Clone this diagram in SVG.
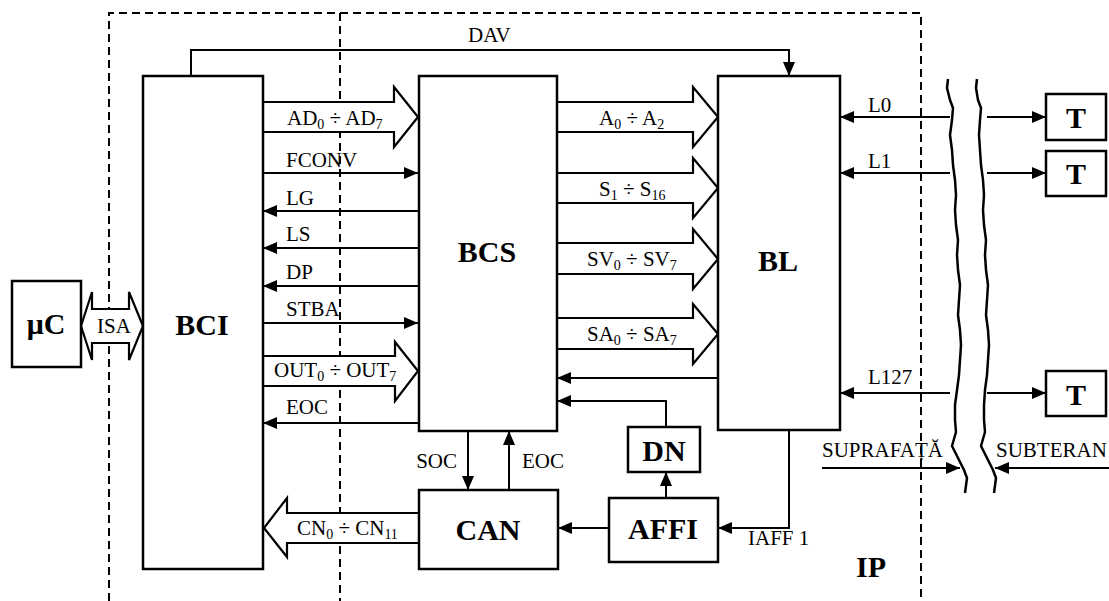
<svg xmlns="http://www.w3.org/2000/svg" width="1109" height="601" viewBox="0 0 1109 601">
<style>
.box{fill:#fff;stroke:#000;stroke-width:2.5}
.ln{fill:none;stroke:#000;stroke-width:2}
.ar{fill:none;stroke:#000;stroke-width:2;marker-end:url(#ah)}
.bus{fill:#fff;stroke:#000;stroke-width:2.2;stroke-linejoin:miter}
.dash{fill:none;stroke:#000;stroke-width:2;stroke-dasharray:8,5}
.wave{fill:none;stroke:#000;stroke-width:2.5;stroke-linejoin:round}
.t{font-family:"Liberation Serif","Times New Roman",serif;font-size:21px;fill:#000}
.b{font-family:"Liberation Serif","Times New Roman",serif;font-size:30px;font-weight:bold;fill:#000;text-anchor:middle}
.s{font-size:14px}
</style>
<defs>
<marker id="ah" markerUnits="userSpaceOnUse" markerWidth="14" markerHeight="12" refX="14" refY="6" orient="auto">
<path d="M0,0 L14,6 L0,12 z" fill="#000"/>
</marker>
</defs>
<rect width="1109" height="601" fill="#fff"/>

<g id="boundaries">
<path class="dash" d="M109,601 V13 H921 V601"/>
<path class="dash" d="M340,13 V601"/>
<path class="wave" d="M948,79 L947,88 L950,100 L953,108 L952,120 L950,135 L952,150 L953,165 L955,180 L956,195 L955,210 L956,225 L958,240 L957,255 L958,270 L960,285 L959,300 L958,315 L960,330 L961,345 L960,360 L959,375 L957,390 L955,405 L955,420 L956,432 L952,446 L958,458 L964,470 L967,478 L965,493"/>
<path class="wave" d="M977,79 L976,88 L978,100 L981,108 L980,120 L979,135 L980,150 L981,165 L983,180 L984,195 L983,210 L984,225 L986,240 L985,255 L986,270 L988,285 L987,300 L986,315 L988,330 L989,345 L988,360 L987,375 L985,390 L984,405 L984,420 L985,432 L981,446 L987,458 L993,470 L996,478 L994,493"/>
</g>

<g id="connectors">
<path class="ar" d="M191,76 V50 H789 V76"/>
<path class="bus" d="M263,102 H394 V87 L418,117 L394,147 V132 H263"/>
<path class="bus" d="M557,102 H693 V87 L718,117 L693,147 V132 H557"/>
<path class="bus" d="M557,173 H693 V158 L718,188 L693,218 V203 H557"/>
<path class="bus" d="M557,243 H693 V229 L718,259 L693,289 V274 H557"/>
<path class="bus" d="M557,318 H693 V304 L718,334 L693,364 V349 H557"/>
<path class="bus" d="M263,356 H395 V342 L418,371 L395,401 V386 H263"/>
<path class="bus" d="M419,513 H287 V498 L264,528 L287,557 V543 H419"/>
<path class="bus" d="M81,326 L92,292 V309 H129 V292 L143,326 L129,360 V343 H92 V360 Z"/>
<path class="ar" d="M263,173 H418"/>
<path class="ar" d="M418,211 H263"/>
<path class="ar" d="M418,248 H263"/>
<path class="ar" d="M418,286 H263"/>
<path class="ar" d="M263,323 H418"/>
<path class="ar" d="M419,423 H263"/>
<path class="ar" d="M718,378 H557"/>
<path class="ar" d="M666,427 V401 H557"/>
<path class="ar" d="M666,498 V472"/>
<path class="ar" d="M609,528 H558"/>
<path class="ar" d="M789,430 V528 H718"/>
<path class="ar" d="M468,431 V490"/>
<path class="ar" d="M509,490 V431"/>
<path class="ar" d="M950,117 H840"/>
<path class="ar" d="M987,117 H1046"/>
<path class="ar" d="M950,173 H840"/>
<path class="ar" d="M987,173 H1046"/>
<path class="ar" d="M950,393 H840"/>
<path class="ar" d="M987,393 H1046"/>
<path class="ar" d="M822,468 H960"/>
<path class="ar" d="M1109,468 H995"/>
</g>

<g id="labels">
<text class="t" x="468" y="42">DAV</text>
<text class="t" x="287" y="125">AD<tspan class="s" dy="4">0</tspan><tspan dy="-4"> ÷ AD</tspan><tspan class="s" dy="4">7</tspan></text>
<text class="t" x="599" y="125">A<tspan class="s" dy="4">0</tspan><tspan dy="-4"> ÷ A</tspan><tspan class="s" dy="4">2</tspan></text>
<text class="t" x="286" y="167">FCONV</text>
<text class="t" x="599" y="196">S<tspan class="s" dy="4">1</tspan><tspan dy="-4"> ÷ S</tspan><tspan class="s" dy="4">16</tspan></text>
<text class="t" x="286" y="205">LG</text>
<text class="t" x="286" y="241">LS</text>
<text class="t" x="286" y="279">DP</text>
<text class="t" x="286" y="316">STBA</text>
<text class="t" x="587" y="266">SV<tspan class="s" dy="4">0</tspan><tspan dy="-4"> ÷ SV</tspan><tspan class="s" dy="4">7</tspan></text>
<text class="t" x="587" y="341">SA<tspan class="s" dy="4">0</tspan><tspan dy="-4"> ÷ SA</tspan><tspan class="s" dy="4">7</tspan></text>
<text class="t" x="274" y="377">OUT<tspan class="s" dy="4">0</tspan><tspan dy="-4"> ÷ OUT</tspan><tspan class="s" dy="4">7</tspan></text>
<text class="t" x="286" y="414">EOC</text>
<text class="t" x="457" y="468" text-anchor="end">SOC</text>
<text class="t" x="522" y="468">EOC</text>
<text class="t" x="297" y="535">CN<tspan class="s" dy="4">0</tspan><tspan dy="-4"> ÷ CN</tspan><tspan class="s" dy="4">11</tspan></text>
<text class="t" x="97" y="333" font-size="20">ISA</text>
<text class="t" x="868" y="112">L0</text>
<text class="t" x="868" y="168">L1</text>
<text class="t" x="868" y="384">L127</text>
<text class="t" x="822" y="457">SUPRAFAȚĂ</text>
<text class="t" x="996" y="457">SUBTERAN</text>
<text class="t" x="748" y="545">IAFF 1</text>
<text class="b" x="871" y="577" font-size="25">IP</text>
</g>

<g id="node-uC">
<rect class="box" x="12" y="281" width="69" height="86" stroke-width="3.5"/>
<text class="b" x="46" y="334" font-size="38">μC</text>
</g>
<g id="node-BCI">
<rect class="box" x="143" y="76" width="120" height="493"/>
<text class="b" x="202" y="335">BCI</text>
</g>
<g id="node-BCS">
<rect class="box" x="419" y="76" width="138" height="355"/>
<text class="b" x="487" y="262">BCS</text>
</g>
<g id="node-BL">
<rect class="box" x="718" y="76" width="122" height="354"/>
<text class="b" x="778" y="271">BL</text>
</g>
<g id="node-CAN">
<rect class="box" x="419" y="490" width="139" height="79"/>
<text class="b" x="488" y="540">CAN</text>
</g>
<g id="node-AFFI">
<rect class="box" x="609" y="498" width="109" height="64"/>
<text class="b" x="663" y="539">AFFI</text>
</g>
<g id="node-DN">
<rect class="box" x="628" y="427" width="72" height="45"/>
<text class="b" x="664" y="461">DN</text>
</g>
<g id="node-T0">
<rect class="box" x="1046" y="94" width="60" height="46"/>
<text class="b" x="1076" y="128">T</text>
</g>
<g id="node-T1">
<rect class="box" x="1046" y="151" width="60" height="45"/>
<text class="b" x="1076" y="184">T</text>
</g>
<g id="node-T127">
<rect class="box" x="1046" y="371" width="60" height="45"/>
<text class="b" x="1076" y="405">T</text>
</g>
</svg>
